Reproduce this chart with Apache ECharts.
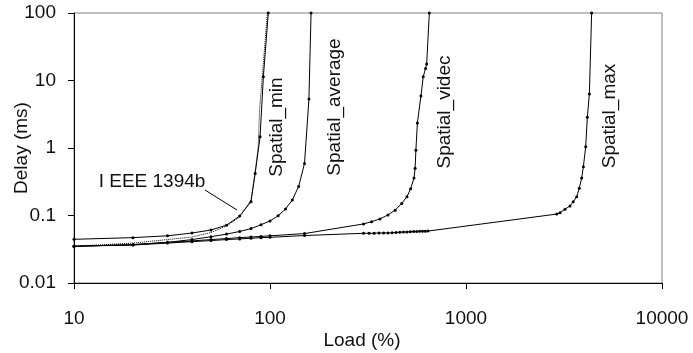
<!DOCTYPE html>
<html>
<head>
<meta charset="utf-8">
<script src="https://cdn.jsdelivr.net/npm/echarts@6/dist/echarts.min.js"></script>
<style>html,body{margin:0;padding:0;background:#fff}#c{width:693px;height:353px}</style>
</head>
<body>
<div id="c"></div>
<script>
// ---- data (Load %, Delay ms) ----
const xTicks = [10, 100, 1000, 10000];
const yTicks = [0.01, 0.1, 1, 10, 100];

const loadIEEE  = [10, 20, 30, 40, 50, 60, 70, 80, 84, 87, 88.5, 92, 97];
const delayIEEE = [0.035, 0.039, 0.044, 0.048, 0.056, 0.07, 0.095, 0.17, 0.45, 1.0, 3.7, 15, 100];

const loadMin  = [10, 20, 30, 40, 50, 60, 70, 80, 84, 89, 92.5, 98];
const delayMin = [0.0444, 0.047, 0.050, 0.055, 0.061, 0.072, 0.098, 0.16, 0.42, 1.47, 11.4, 100];

const loadAvg  = [10, 20, 30, 40, 50, 60, 70, 80, 90, 100, 110, 120, 130, 140, 150, 158, 162];
const delayAvg = [0.035, 0.037, 0.040, 0.044, 0.0485, 0.053, 0.058, 0.064, 0.073, 0.083, 0.099, 0.125, 0.17, 0.27, 0.59, 5.3, 100];

const loadVideo  = [10, 20, 30, 40, 50, 60, 70, 80, 90, 100, 150, 300, 330, 364, 400, 435, 470, 500, 522, 543, 550, 555, 565, 589, 605, 622, 630, 650];
const delayVideo = [0.035, 0.037, 0.040, 0.042, 0.044, 0.0455, 0.047, 0.048, 0.049, 0.050, 0.054, 0.075, 0.081, 0.089, 0.102, 0.12, 0.151, 0.19, 0.25, 0.36, 0.5, 0.93, 2.35, 5.9, 11.4, 15.1, 17.5, 100];

const loadMax  = [10, 20, 30, 40, 50, 60, 70, 80, 90, 100, 150, 300, 320, 340, 360, 380, 400, 420, 440, 460, 480, 500, 520, 540, 560, 580, 600, 620, 640, 2904, 3019, 3199, 3392, 3524, 3673, 3784, 3893, 3970, 4080, 4160, 4260, 4375];
const delayMax = [0.035, 0.0365, 0.039, 0.041, 0.0425, 0.044, 0.045, 0.046, 0.047, 0.0475, 0.0505, 0.0545, 0.0545, 0.0548, 0.055, 0.055, 0.0552, 0.0555, 0.0562, 0.0565, 0.0568, 0.057, 0.0575, 0.058, 0.058, 0.0582, 0.0585, 0.0585, 0.0588, 0.105, 0.11, 0.124, 0.138, 0.16, 0.19, 0.253, 0.36, 0.528, 1.045, 2.85, 6.31, 100];

const seriesNames = ['IEEE 1394b', 'Spatial_min', 'Spatial_average', 'Spatial_videc', 'Spatial_max'];

// ---- build ----
const zip = (a, b) => a.map((v, i) => [v, b[i]]);
const FONT = 'Liberation Sans';
const fmt = v => String(Number(Number(v).toPrecision(6)));

function lineSeries(name, xs, ys, dotted) {
  return {
    name: name, type: 'line', data: zip(xs, ys),
    showSymbol: !dotted, symbol: 'circle', symbolSize: 3,
    itemStyle: { color: '#000' },
    lineStyle: { color: '#000', width: 1, type: dotted ? 'dotted' : 'solid' },
    silent: true, z: dotted ? 3 : 2
  };
}

function vText(txt, x, y) {
  return {
    type: 'text', x: x, y: y, rotation: Math.PI / 2,
    style: { text: txt, fontFamily: FONT, fontSize: 19, fill: '#111', align: 'center', verticalAlign: 'middle' }
  };
}

const chart = echarts.init(document.getElementById('c'), null, { renderer: 'canvas' });
chart.setOption({
  animation: false,
  backgroundColor: '#fff',
  grid: { left: 74, right: 31, top: 13, bottom: 70, show: true, borderColor: '#808080', borderWidth: 1, backgroundColor: 'transparent' },
  xAxis: {
    type: 'log', logBase: 10, min: xTicks[0], max: xTicks[xTicks.length - 1],
    axisLine: { show: true, lineStyle: { color: '#000', width: 1 } },
    axisTick: { show: true, inside: false, length: 6, lineStyle: { color: '#000' } },
    minorTick: { show: false },
    splitLine: { show: false },
    axisLabel: { margin: 26, fontFamily: FONT, fontSize: 19, color: '#111', formatter: fmt }
  },
  yAxis: {
    type: 'log', logBase: 10, min: yTicks[0], max: yTicks[yTicks.length - 1],
    axisLine: { show: true, lineStyle: { color: '#000', width: 1 } },
    axisTick: { show: true, inside: false, length: 6, lineStyle: { color: '#000' } },
    minorTick: { show: false },
    splitLine: { show: false },
    axisLabel: { margin: 18, fontFamily: FONT, fontSize: 19, color: '#111', formatter: fmt }
  },
  series: [
    lineSeries(seriesNames[0], loadIEEE, delayIEEE, true),
    lineSeries(seriesNames[1], loadMin, delayMin, false),
    lineSeries(seriesNames[2], loadAvg, delayAvg, false),
    lineSeries(seriesNames[3], loadVideo, delayVideo, false),
    lineSeries(seriesNames[4], loadMax, delayMax, false)
  ],
  graphic: [
    vText(seriesNames[1], 277, 127),
    vText(seriesNames[2], 335, 107),
    vText(seriesNames[3], 445, 112),
    vText(seriesNames[4], 610, 116),
    { type: 'text', x: 152, y: 182, style: { text: 'I EEE 1394b', fontFamily: FONT, fontSize: 19, fill: '#111', align: 'center', verticalAlign: 'middle' } },
    { type: 'line', shape: { x1: 205, y1: 190, x2: 237, y2: 210 }, style: { stroke: '#000', lineWidth: 1 } },
    vText('Delay (ms)', 22, 148),
    { type: 'text', x: 362, y: 341, style: { text: 'Load (%)', fontFamily: FONT, fontSize: 19, fill: '#111', align: 'center', verticalAlign: 'middle' } }
  ]
});
</script>
</body>
</html>
